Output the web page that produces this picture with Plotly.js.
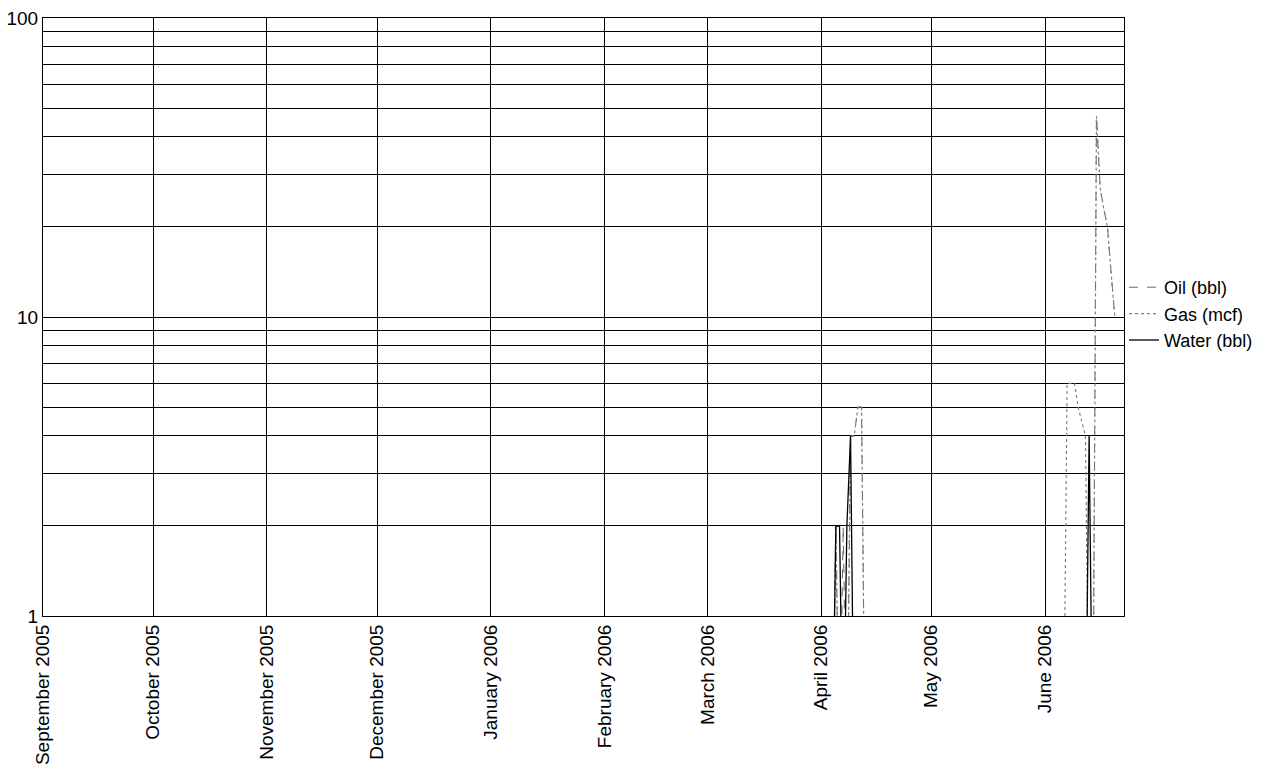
<!DOCTYPE html>
<html>
<head>
<meta charset="utf-8">
<script src="https://cdn.plot.ly/plotly-3.0.1.min.js"></script>
<style>
html,body{margin:0;padding:0;background:#fff;}
#chart{width:1270px;height:774px;}
</style>
</head>
<body>
<div id="chart"></div>
<script>
// Daily production readings (0 = no production, drawn at the bottom of the log axis)
const dates = [
  '2005-09-01',
  '2006-04-04','2006-04-05','2006-04-06','2006-04-07','2006-04-08',
  '2006-04-09','2006-04-10','2006-04-11','2006-04-12','2006-04-13',
  '2006-06-06','2006-06-07','2006-06-08','2006-06-09','2006-06-10',
  '2006-06-11','2006-06-12','2006-06-13','2006-06-14','2006-06-15',
  '2006-06-16','2006-06-17','2006-06-18','2006-06-19','2006-06-20'
];
const oilBbl = [
  0,
  0,2,0,2,0, 4,4,5,5,0,
  0,0,0,0,0, 0,0,0,0,47, 27,23,20,14,10
];
const gasMcf = [
  0,
  0,2,0,0,0, 4,4,5,5,0,
  0,6,6,6,5, 4.5,4,0,0,47, 27,23,20,14,10
];
const waterBbl = [
  0,
  0,2,2,0,2, 4,0,0,0,0,
  0,0,0,0,0, 0,0,4,0,0, 0,0,0,0,0
];

const monthTicks = ['2005-09-01','2005-10-01','2005-11-01','2005-12-01','2006-01-01',
  '2006-02-01','2006-03-01','2006-04-01','2006-05-01','2006-06-01'];
const monthLabels = ['September 2005','October 2005','November 2005','December 2005','January 2006',
  'February 2006','March 2006','April 2006','May 2006','June 2006'];

const yTickVals = [1,2,3,4,5,6,7,8,9,10,20,30,40,50,60,70,80,90,100];
const yTickText = yTickVals.map(v => (v === 1 || v === 10 || v === 100) ? String(v) : '');

// zero values are placed below the visible log range so they sit on the bottom edge
const floorZero = arr => arr.map(v => v > 0 ? v : 0.3);

const FONT = 'Liberation Sans, Arial, Helvetica, sans-serif';

const traces = [
  {x: dates, y: floorZero(oilBbl), name: 'Oil (bbl)', mode: 'lines', type: 'scatter',
   line: {color: '#666666', width: 1, dash: 'dash'}},
  {x: dates, y: floorZero(gasMcf), name: 'Gas (mcf)', mode: 'lines', type: 'scatter',
   line: {color: '#808080', width: 1.2, dash: 'dot'}},
  {x: dates, y: floorZero(waterBbl), name: 'Water (bbl)', mode: 'lines', type: 'scatter',
   line: {color: '#000000', width: 1.3}}
];

const layout = {
  width: 1270, height: 774,
  margin: {l: 43, r: 146, t: 18, b: 158},
  paper_bgcolor: '#ffffff', plot_bgcolor: '#ffffff',
  font: {family: FONT, size: 19, color: '#000'},
  showlegend: true,
  legend: {x: 1.0, xanchor: 'left', y: 0.505, yanchor: 'middle',
    font: {family: FONT, size: 18, color: '#000'}, itemwidth: 30,
    bgcolor: 'rgba(0,0,0,0)', tracegroupgap: 0},
  xaxis: {
    type: 'date',
    range: ['2005-09-01', '2006-06-22 12:00'],
    tickmode: 'array', tickvals: monthTicks, ticktext: monthLabels,
    tickangle: -90, tickfont: {family: FONT, size: 19, color: '#000'},
    showgrid: true, gridcolor: '#000', gridwidth: 1,
    showline: true, linecolor: '#000', linewidth: 1, mirror: true,
    ticks: '', zeroline: false
  },
  yaxis: {
    type: 'log', range: [0, 2],
    tickmode: 'array', tickvals: yTickVals, ticktext: yTickText,
    tickfont: {family: FONT, size: 19, color: '#000'},
    showgrid: true, gridcolor: '#000', gridwidth: 1,
    showline: true, linecolor: '#000', linewidth: 1, mirror: true,
    ticks: '', zeroline: false
  }
};

Plotly.newPlot('chart', traces, layout, {staticPlot: true, displayModeBar: false});
</script>
</body>
</html>
